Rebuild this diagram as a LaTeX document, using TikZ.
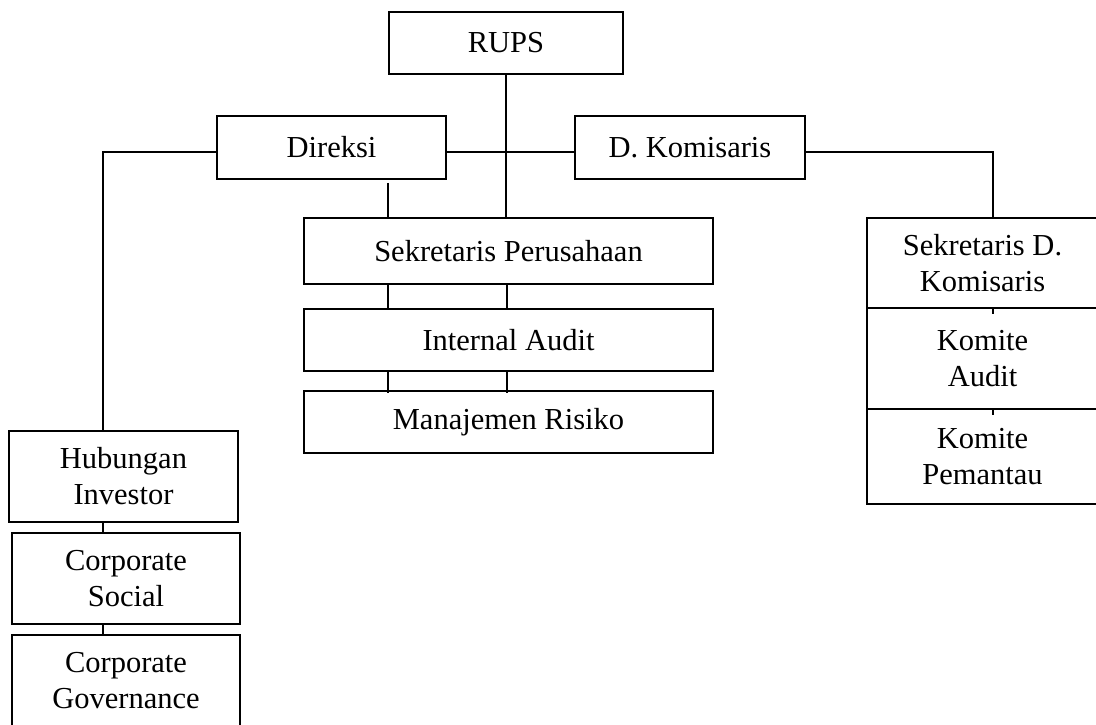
\documentclass[tikz,border=0pt]{standalone}
\usepackage{fontspec}
\setmainfont{Liberation Serif}
\begin{document}
\begin{tikzpicture}[x=1pt,y=-1pt,
  box/.style={draw,line width=1.7pt,rectangle,inner sep=0pt,align=center,
    font=\fontsize{30.5}{36}\selectfont},
  link/.style={line width=1.7pt}]
\useasboundingbox (0,0) rectangle (1096,725);
% top level
\node[box,minimum width=234pt,minimum height=62pt] (rups) at (506,43) {RUPS};
\node[box,minimum width=229pt,minimum height=63pt] (dir) at (331.5,147.5) {Direksi};
\node[box,minimum width=230pt,minimum height=63pt] (dkom) at (690,147.5) {D. Komisaris};
% centre column
\node[box,minimum width=409pt,minimum height=66pt] (sekp) at (508.5,251) {Sekretaris Perusahaan};
\node[box,minimum width=409pt,minimum height=62pt] (ia) at (508.5,340) {Internal Audit};
\node[box,minimum width=409pt,minimum height=62pt] (mr) at (508.5,422) {Manajemen Risiko};
% right column
\node[box,minimum width=231pt,minimum height=90pt] (sekd) at (982.5,263) {Sekretaris D.\\Komisaris};
\node[box,minimum width=231pt,minimum height=101pt] (ka) at (982.5,358.5) {Komite\\Audit};
\node[box,minimum width=231pt,minimum height=95pt] (kp) at (982.5,456.5) {Komite\\Pemantau};
% left column
\node[box,minimum width=229pt,minimum height=91pt] (hub) at (123.5,476.5) {Hubungan\\Investor};
\node[box,minimum width=228pt,minimum height=91pt] (cs) at (126,578.5) {Corporate\\Social};
\node[box,minimum width=228pt,minimum height=91pt] (cg) at (126,680.5) {Corporate\\Governance};
% connectors
\draw[link] (rups.south) -- (rups.south |- sekp.north);
\draw[link] ([yshift=-4.5pt]dir.east) -- ([yshift=-4.5pt]dkom.west);
\draw[link] ([yshift=-4.5pt]dir.west) -| ([xshift=-20.5pt]hub.north);
\draw[link] ([yshift=-4.5pt]dkom.east) -| ([xshift=10.5pt]sekd.north);
\draw[link] ([xshift=56.5pt,yshift=-3pt]dir.south) -- ([xshift=56.5pt]dir.south |- sekp.north);
\foreach \dx in {-120.5,-1.5}{
  \draw[link] ([xshift=\dx pt]sekp.south) -- ([xshift=\dx pt]ia.north);
  \draw[link] ([xshift=\dx pt]ia.south) -- ([xshift=\dx pt,yshift=-3pt]mr.north);
}
\draw[link] ([xshift=10.5pt]sekd.south) -- ([xshift=10.5pt,yshift=-5pt]sekd.south);
\draw[link] ([xshift=10.5pt]ka.south) -- ([xshift=10.5pt,yshift=-5pt]ka.south);
\draw[link] ([xshift=-20.5pt]hub.south) -- ([xshift=-23pt]cs.north);
\draw[link] ([xshift=-23pt]cs.south) -- ([xshift=-23pt]cg.north);
\end{tikzpicture}
\end{document}
